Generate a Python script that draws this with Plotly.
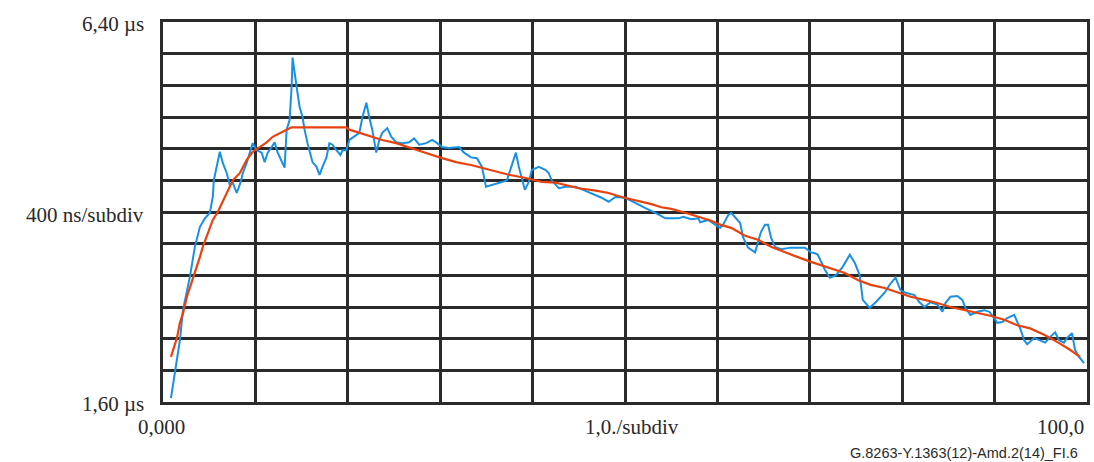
import plotly.graph_objects as go

# Measured time error trace (µs) against observation interval
measured_x = [0.86, 1.29, 1.83, 2.16, 2.91, 3.45, 3.99, 4.53, 5.07, 5.39, 5.50, 6.15, 6.47, 6.90,
              7.23, 7.55, 7.98, 8.41, 8.63, 9.06, 9.39, 9.71, 10.14, 10.68, 11.00, 11.33, 11.76,
              12.08, 12.41, 12.84, 13.16, 13.38, 13.70, 13.92, 14.02, 14.46, 14.78, 15.10, 15.32,
              15.64, 16.18, 16.61, 16.94, 17.26, 17.69, 18.01, 18.34, 18.77, 19.20, 19.42, 19.85,
              20.17, 20.71, 21.25, 21.57, 22.01, 22.33, 22.65, 23.08, 23.41, 23.73, 24.27, 24.70,
              25.24, 25.89, 26.64, 27.18, 27.72, 28.48, 29.13, 29.67, 30.20, 30.96, 32.04, 32.58,
              33.33, 33.98, 34.52, 34.95, 35.60, 36.68, 37.22, 37.65, 38.19, 38.51, 38.83, 39.16,
              39.59, 39.91, 40.67, 41.42, 41.75, 42.07, 42.83, 43.58, 44.66, 46.82, 47.46, 48.22,
              48.97, 50.05, 51.13, 52.21, 53.29, 54.37, 55.77, 56.31, 57.17, 57.93, 58.14, 59.01,
              59.76, 60.30, 60.62, 61.16, 61.49, 62.03, 62.46, 62.78, 63.32, 64.08, 64.40, 64.72,
              65.15, 65.48, 65.80, 66.23, 66.88, 67.96, 69.47, 70.12, 70.55, 70.87, 71.63, 72.17,
              72.82, 73.57, 74.33, 74.86, 75.40, 75.73, 76.48, 77.13, 78.10, 78.75, 79.28, 79.82,
              80.36, 81.33, 81.87, 82.41, 83.06, 83.81, 84.35, 84.68, 85.22, 85.97, 86.51, 86.84,
              87.38, 88.13, 88.89, 89.43, 89.96, 90.29, 90.83, 91.37, 92.12, 92.45, 92.77, 93.20,
              93.53, 94.28, 94.93, 95.47, 96.00, 96.55, 96.98, 97.51, 97.84, 98.38, 98.70, 99.14,
              99.68]
measured_y = [1.65, 1.97, 2.38, 2.76, 3.18, 3.56, 3.81, 3.92, 3.99, 4.19, 4.40, 4.76, 4.62, 4.49,
              4.34, 4.37, 4.24, 4.38, 4.49, 4.62, 4.75, 4.87, 4.78, 4.75, 4.63, 4.75, 4.82,
              4.88, 4.75, 4.63, 4.56, 5.04, 5.16, 5.58, 5.95, 5.58, 5.33, 5.20, 5.04,
              4.87, 4.63, 4.57, 4.47, 4.57, 4.69, 4.87, 4.85, 4.78, 4.72, 4.78, 4.78,
              4.91, 4.95, 5.00, 5.19, 5.38, 5.19, 5.04, 4.75, 4.91, 5.00, 5.06, 4.95,
              4.88, 4.87, 4.88, 4.93, 4.85, 4.87, 4.91, 4.87, 4.82, 4.81, 4.82, 4.75,
              4.69, 4.68, 4.57, 4.32, 4.34, 4.38, 4.40, 4.57, 4.75, 4.57, 4.44, 4.28,
              4.38, 4.53, 4.57, 4.53, 4.49, 4.40, 4.30, 4.32, 4.32, 4.21, 4.18, 4.13,
              4.19, 4.18, 4.11, 4.05, 3.99, 3.92, 3.92, 3.94, 3.91, 3.92, 3.87, 3.90,
              3.84, 3.80, 3.84, 3.96, 3.99, 3.92, 3.86, 3.68, 3.55, 3.49, 3.61, 3.75,
              3.84, 3.84, 3.68, 3.56, 3.53, 3.55, 3.55, 3.49, 3.48, 3.46, 3.27, 3.17,
              3.20, 3.31, 3.46, 3.36, 3.20, 2.89, 2.79, 2.86, 2.98, 3.10, 3.17, 3.01,
              2.98, 2.95, 2.86, 2.80, 2.86, 2.83, 2.74, 2.85, 2.93, 2.94, 2.89, 2.79,
              2.70, 2.74, 2.76, 2.74, 2.66, 2.60, 2.61, 2.66, 2.70, 2.61, 2.53, 2.38,
              2.33, 2.41, 2.38, 2.35, 2.42, 2.48, 2.38, 2.35, 2.41, 2.47, 2.26, 2.17,
              2.09]

# Smoothed (filtered) trace
smooth_x = [0.86, 1.08, 1.51, 1.83, 2.16, 2.59, 3.45, 3.99, 4.31, 4.85, 5.39, 5.93, 6.36, 6.90,
            7.55, 8.31, 9.06, 9.71, 10.46, 11.22, 11.87, 12.62, 13.38, 13.92, 19.85, 20.17,
            21.25, 22.33, 23.73, 25.24, 26.64, 28.05, 30.20, 31.71, 33.44, 34.52, 36.03, 37.43,
            39.26, 40.99, 42.50, 44.98, 46.82, 48.22, 49.62, 51.13, 52.86, 53.94, 55.01, 56.52,
            57.93, 59.33, 60.30, 61.49, 62.99, 64.40, 65.80, 67.31, 68.71, 70.12, 71.20, 72.28,
            73.79, 75.19, 76.59, 78.10, 79.50, 80.91, 82.41, 83.81, 85.22, 86.73, 88.13, 89.53,
            91.05, 92.45, 93.85, 95.36, 96.76, 98.16, 99.24]
smooth_y = [2.17, 2.26, 2.41, 2.60, 2.72, 2.93, 3.23, 3.43, 3.56, 3.73, 3.90, 4.00, 4.11, 4.25,
            4.40, 4.49, 4.66, 4.76, 4.82, 4.88, 4.95, 5.00, 5.04, 5.07, 5.07, 5.04,
            5.00, 4.96, 4.91, 4.87, 4.82, 4.76, 4.68, 4.63, 4.59, 4.56, 4.51, 4.47,
            4.43, 4.38, 4.37, 4.30, 4.27, 4.24, 4.19, 4.15, 4.10, 4.06, 4.04, 3.99,
            3.94, 3.89, 3.84, 3.80, 3.70, 3.65, 3.56, 3.49, 3.43, 3.37, 3.33, 3.29,
            3.23, 3.14, 3.08, 3.04, 2.99, 2.93, 2.89, 2.85, 2.80, 2.76, 2.72, 2.69,
            2.64, 2.57, 2.53, 2.45, 2.36, 2.26, 2.17]

x_range = [0, 100]
y_range = [1.6, 6.4]

GRID = "#2b2b2b"
TEXT = "#2a2a2a"
SERIF = "Liberation Serif, Times New Roman, serif"

fig = go.Figure()
fig.add_trace(go.Scatter(x=measured_x, y=measured_y, mode="lines",
                         line=dict(color="#1a90e2", width=2), showlegend=False))
fig.add_trace(go.Scatter(x=smooth_x, y=smooth_y, mode="lines",
                         line=dict(color="#e8420e", width=2.2), showlegend=False))

axis_common = dict(showgrid=True, gridcolor=GRID, gridwidth=2.6, zeroline=False,
                   showline=True, linecolor=GRID, linewidth=3, mirror=True,
                   showticklabels=False, ticks="")
fig.update_xaxes(range=x_range, dtick=10, tick0=0, **axis_common)
fig.update_yaxes(range=y_range, dtick=0.4, tick0=1.6, **axis_common)

labels = [
    dict(text="6,40 µs", x=0, y=0.995, xanchor="right", xshift=-17),
    dict(text="400 ns/subdiv", x=0, y=0.492, xanchor="right", xshift=-17),
    dict(text="1,60 µs", x=0, y=-0.005, xanchor="right", xshift=-17),
    dict(text="0,000", x=-0.002, y=-0.066, xanchor="center"),
    dict(text="1,0./subdiv", x=0.508, y=-0.066, xanchor="center"),
    dict(text="100,0", x=0.999, y=-0.066, xanchor="right"),
]
for lab in labels:
    fig.add_annotation(xref="paper", yref="paper", yanchor="middle", showarrow=False,
                       font=dict(family=SERIF, size=21, color=TEXT), **lab)

fig.add_annotation(text="G.8263-Y.1363(12)-Amd.2(14)_FI.6", xref="paper", yref="paper",
                   x=0.992, y=-0.134, xanchor="right", yanchor="middle", showarrow=False,
                   font=dict(family="Liberation Sans, Arial, sans-serif", size=14.5, color=TEXT))

fig.update_layout(width=1094, height=462, margin=dict(l=163, r=4, t=22, b=60),
                  plot_bgcolor="white", paper_bgcolor="white")

fig.write_html("out.html")
